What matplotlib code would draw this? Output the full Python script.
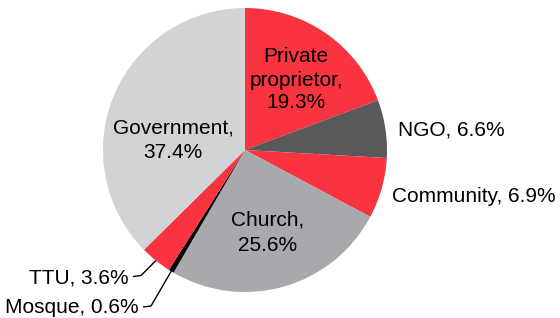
import numpy as np
import matplotlib.pyplot as plt

plt.rcParams['font.family'] = ['Liberation Sans', 'DejaVu Sans']

# data, clockwise from 12 o'clock
labels = ['Private proprietor', 'NGO', 'Community', 'Church', 'Mosque', 'TTU', 'Government']
shares = [19.3, 6.6, 6.9, 25.6, 0.6, 3.6, 37.4]
colors = ['#f93340', '#58595b', '#f93340', '#a7a9ac', '#000000', '#f93340', '#d1d3d4']

W, H = 560, 318
fig = plt.figure(figsize=(W / 100, H / 100), dpi=100)
ax = fig.add_axes([0, 0, 1, 1])

cx, cy, r = 245, H - 150, 142
ax.pie(shares, colors=colors, startangle=90, counterclock=False,
       center=(cx, cy), radius=r, frame=True,
       wedgeprops=dict(linewidth=0))
ax.set_xlim(0, W)
ax.set_ylim(0, H)
ax.axis('off')

fs = 15
txt = lambda i: f'{labels[i]}, {shares[i]}%'

def lines(x, baselines, parts, ha='center'):
    # one text per line, placed on its baseline (pixel rows from the top)
    for b, s in zip(baselines, parts):
        ax.text(x, H - b, s, ha=ha, va='baseline', fontsize=fs)

# labels inside the pie
lines(296, [62, 85.5, 108.5], ['Private', 'proprietor,', '19.3%'])
lines(173, [133, 158], ['Government,', '37.4%'])
lines(268, [226, 251], ['Church,', '25.6%'])

# labels outside on the right
lines(398, [136], [txt(1)], ha='left')
lines(392, [202], [txt(2)], ha='left')

# labels with leader lines on the lower left
cum = np.cumsum([0] + shares)
def edge_point(i):
    mid = (cum[i] + cum[i + 1]) / 2 / 100 * 2 * np.pi
    return cx + r * np.sin(mid), cy + r * np.cos(mid)

for i, tx, base, ly in [(5, 129, 283, 276.5), (4, 139, 313, 307)]:
    ex, ey = edge_point(i)
    ax.plot([tx + 4, tx + 12, ex], [H - ly, H - ly + 1, ey], color='black',
            lw=1.0, solid_capstyle='butt')
    lines(tx, [base], [txt(i)], ha='right')

fig.savefig('out.png', dpi=100)
